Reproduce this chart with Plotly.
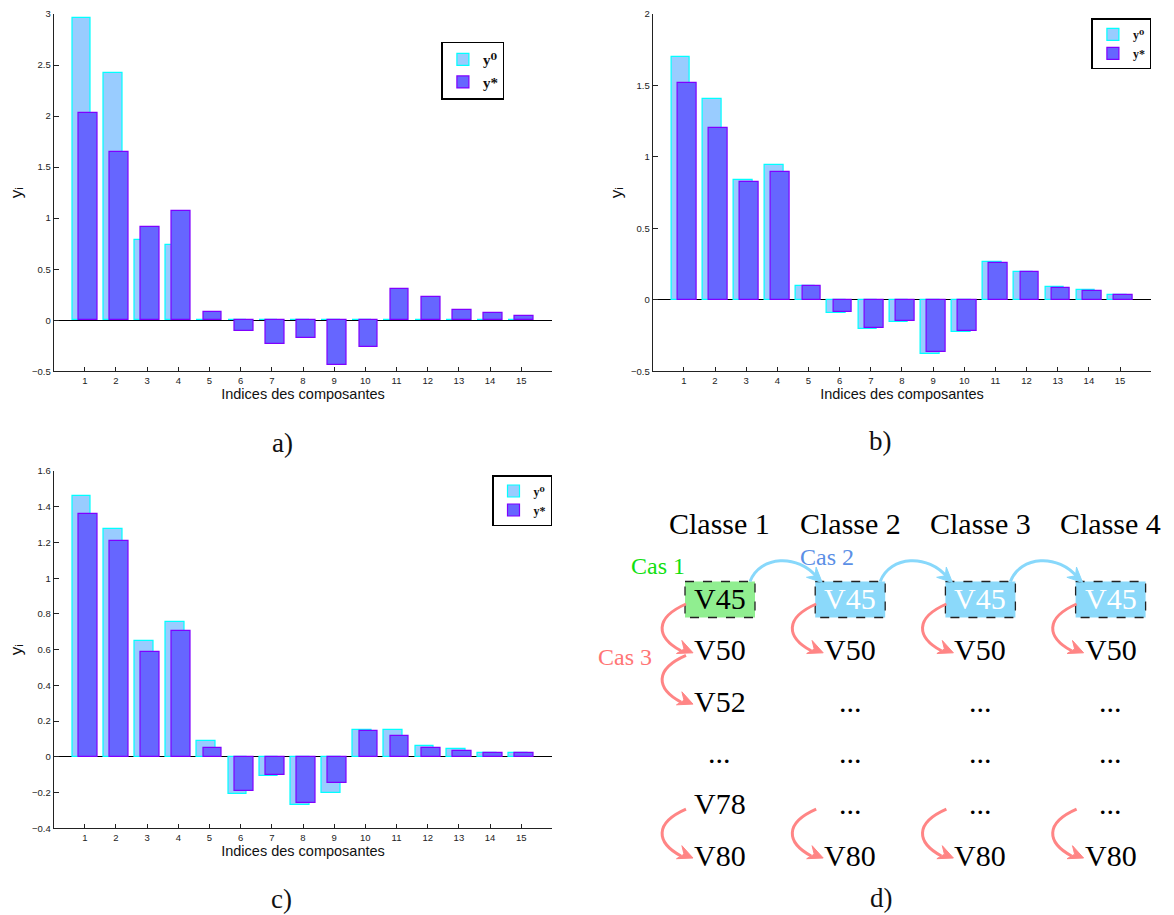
import math
import plotly.graph_objects as go

# ---------------- data ----------------
idx = list(range(1, 16))

a_y0 = [2.96, 2.42, 0.787, 0.735, 0.004, 0.004, 0.004, 0.004, 0.004, 0.004, 0.004, 0.004, 0.004, 0.004, 0.004]
a_ystar = [2.027, 1.645, 0.91, 1.068, 0.082, -0.104, -0.235, -0.176, -0.434, -0.258, 0.304, 0.229, 0.098, 0.075, 0.042]

b_y0 = [1.698, 1.404, 0.837, 0.942, 0.098, -0.089, -0.205, -0.156, -0.382, -0.222, 0.268, 0.198, 0.089, 0.068, 0.037]
b_ystar = [1.516, 1.203, 0.826, 0.893, 0.098, -0.086, -0.198, -0.149, -0.366, -0.215, 0.257, 0.194, 0.086, 0.063, 0.035]

c_y0 = [1.459, 1.278, 0.647, 0.754, 0.086, -0.209, -0.108, -0.269, -0.200, 0.153, 0.153, 0.060, 0.043, 0.024, 0.024]
c_ystar = [1.358, 1.209, 0.588, 0.703, 0.052, -0.192, -0.104, -0.261, -0.149, 0.147, 0.119, 0.049, 0.035, 0.021, 0.019]

a_yticks = [-0.5, 0, 0.5, 1, 1.5, 2, 2.5, 3]
a_yticktext = ["\u22120.5", "0", "0.5", "1", "1.5", "2", "2.5", "3"]
b_yticks = [-0.5, 0, 0.5, 1, 1.5, 2]
b_yticktext = ["\u22120.5", "0", "0.5", "1", "1.5", "2"]
c_yticks = [-0.4, -0.2, 0, 0.2, 0.4, 0.6, 0.8, 1, 1.2, 1.4, 1.6]
c_yticktext = ["\u22120.4", "\u22120.2", "0", "0.2", "0.4", "0.6", "0.8", "1", "1.2", "1.4", "1.6"]

x_title = "Indices des composantes"
y_title = "y\u1d62"
name_y0 = "y\u2070"
name_ystar = "y*"

# diagram (panel d)
classes = ["Classe 1", "Classe 2", "Classe 3", "Classe 4"]
columns = [
    ["V45", "V50", "V52", "...", "V78", "V80"],
    ["V45", "V50", "...", "...", "...", "V80"],
    ["V45", "V50", "...", "...", "...", "V80"],
    ["V45", "V50", "...", "...", "...", "V80"],
]
red_links = [
    [(0, 1), (1, 2), (4, 5)],
    [(0, 1), (4, 5)],
    [(0, 1), (4, 5)],
    [(0, 1), (4, 5)],
]
cas_labels = ["Cas 1", "Cas 2", "Cas 3"]
panel_labels = ["a)", "b)", "c)", "d)"]

# ---------------- style ----------------
W, H = 1174, 915
C_Y0_FILL, C_Y0_LINE = "#99ccff", "#00ffff"
C_YS_FILL, C_YS_LINE = "#6666ff", "#8000ff"
SANS = "Liberation Sans, DejaVu Sans"
SERIF = "Liberation Serif, DejaVu Serif"

fig = go.Figure()

panels = [
    ("x", "y", a_y0, a_ystar, "legend"),
    ("x2", "y2", b_y0, b_ystar, "legend2"),
    ("x3", "y3", c_y0, c_ystar, "legend3"),
]
for xa, ya, v0, vs, lg in panels:
    fig.add_trace(go.Bar(x=idx, y=v0, name=name_y0, xaxis=xa, yaxis=ya,
                         width=0.6, offset=-0.4, legend=lg,
                         marker=dict(color=C_Y0_FILL, line=dict(color=C_Y0_LINE, width=1.2))))
    fig.add_trace(go.Bar(x=idx, y=vs, name=name_ystar, xaxis=xa, yaxis=ya,
                         width=0.6, offset=-0.2, legend=lg,
                         marker=dict(color=C_YS_FILL, line=dict(color=C_YS_LINE, width=1.2))))


def px_x(p):
    return p / W


def px_y(p):
    return 1 - p / H


def xax(domain, anchor):
    return dict(domain=domain, anchor=anchor, range=[0, 16], tickvals=idx, ticktext=[str(i) for i in idx],
                ticks="inside", ticklen=4, tickcolor="#222", showline=True, linecolor="#222",
                linewidth=1, showgrid=False, zeroline=False, mirror=False,
                tickfont=dict(family=SANS, size=9.5, color="#222"),
                title=dict(text=x_title, font=dict(family=SANS, size=14.5, color="#111"), standoff=2))


def yax(domain, anchor, rng, tv, tt):
    return dict(domain=domain, anchor=anchor, range=rng, tickvals=tv, ticktext=tt,
                ticks="inside", ticklen=5, tickcolor="#222", showline=True, linecolor="#222",
                linewidth=1, showgrid=False, zeroline=True, zerolinecolor="#000", zerolinewidth=1,
                tickfont=dict(family=SANS, size=9.5, color="#222"),
                title=dict(text=y_title, font=dict(family=SANS, size=17, color="#111"), standoff=4))


xa_dom = [px_x(53.6), px_x(552.4)]
xb_dom = [px_x(652.7), px_x(1151.2)]
ya_dom = [px_y(371.3), px_y(14)]
yc_dom = [px_y(828.3), px_y(471)]

legend_common = dict(bgcolor="white", bordercolor="black", borderwidth=1.5,
                     xanchor="left", yanchor="top", itemwidth=30, tracegroupgap=0)

fig.update_layout(
    width=W, height=H, margin=dict(l=0, r=0, t=0, b=0, autoexpand=False),
    paper_bgcolor="white", plot_bgcolor="white",
    barmode="overlay", bargap=0,
    xaxis=xax(xa_dom, "y"), yaxis=yax(ya_dom, "x", [-0.5, 3], a_yticks, a_yticktext),
    xaxis2=xax(xb_dom, "y2"), yaxis2=yax(ya_dom, "x2", [-0.5, 2], b_yticks, b_yticktext),
    xaxis3=xax(xa_dom, "y3"), yaxis3=yax(yc_dom, "x3", [-0.4, 1.6], c_yticks, c_yticktext),
    xaxis4=dict(domain=[px_x(590), 1], anchor="y4", range=[590, W], visible=False, fixedrange=True),
    yaxis4=dict(domain=[0, px_y(490)], anchor="x4", range=[H, 490], visible=False, fixedrange=True),
    legend=dict(x=px_x(441.4), y=px_y(41.7),
                font=dict(family=SERIF, size=15, color="#111", weight="bold"), **legend_common),
    legend2=dict(x=px_x(1091.4), y=px_y(18.3),
                 font=dict(family=SERIF, size=12, color="#111", weight="bold"), **legend_common),
    legend3=dict(x=px_x(492), y=px_y(475),
                 font=dict(family=SERIF, size=12, color="#111", weight="bold"), **legend_common),
    showlegend=True,
)

# ---------------- panel labels ----------------
label_pos = [(282.5, 443), (880, 441), (281, 899), (881, 898)]
for txt, (lx, ly) in zip(panel_labels, label_pos):
    fig.add_annotation(text=txt, x=px_x(lx), y=px_y(ly), xref="paper", yref="paper",
                       showarrow=False, xanchor="center", yanchor="middle",
                       font=dict(family=SERIF, size=27, color="#111"))

# ---------------- diagram d ----------------
COL_X0, COL_DX = 720.0, 130.2
ROW_Y0, ROW_DY = 600.0, 51.3
HEAD_Y = 525.0
TXT_DY = -1.5  # visual centering of serif caps
BLUE_ARROW = "#88d8fb"
RED_ARROW = "#ff8585"


def cx(i):
    return COL_X0 + COL_DX * i


def ry(j):
    return ROW_Y0 + ROW_DY * j


def text4(t, x, y, size, color):
    fig.add_annotation(text=t, x=x, y=y + TXT_DY, xref="x4", yref="y4", showarrow=False,
                       xanchor="center", yanchor="middle",
                       font=dict(family=SERIF, size=size, color=color))


def arrowhead(tip, ctrl, color, L=15, Wd=7):
    dx, dy = tip[0] - ctrl[0], tip[1] - ctrl[1]
    n = math.hypot(dx, dy)
    dx, dy = dx / n, dy / n
    px, py = -dy, dx
    bx, by = tip[0] - L * dx, tip[1] - L * dy
    nx, ny = tip[0] - 0.65 * L * dx, tip[1] - 0.65 * L * dy
    path = (f"M {tip[0]:.1f},{tip[1]:.1f} L {bx + Wd * px:.1f},{by + Wd * py:.1f} "
            f"L {nx:.1f},{ny:.1f} L {bx - Wd * px:.1f},{by - Wd * py:.1f} Z")
    fig.add_shape(type="path", path=path, xref="x4", yref="y4",
                  fillcolor=color, line=dict(color=color, width=1))


def curve(p0, c1, c2, p3, color):
    path = (f"M {p0[0]:.1f},{p0[1]:.1f} C {c1[0]:.1f},{c1[1]:.1f} "
            f"{c2[0]:.1f},{c2[1]:.1f} {p3[0]:.1f},{p3[1]:.1f}")
    fig.add_shape(type="path", path=path, xref="x4", yref="y4",
                  line=dict(color=color, width=3))


for i, cname in enumerate(classes):
    text4(cname, cx(i), HEAD_Y, 30, "#000")

for i, col in enumerate(columns):
    fill = "#90ee90" if i == 0 else "#8bd9fa"
    fig.add_shape(type="rect", x0=cx(i) - 35, x1=cx(i) + 35, y0=ry(0) - 18.5, y1=ry(0) + 17.5,
                  xref="x4", yref="y4", fillcolor=fill,
                  line=dict(color="#222", width=1.3, dash="dash"), layer="below")
    for j, lab in enumerate(col):
        color = "#000" if (j > 0 or i == 0) else "#ffffff"
        text4(lab, cx(i), ry(j), 30, color)
    for (j0, j1) in red_links[i]:
        p0 = (cx(i) - 34, ry(j0) + 4)
        c1 = (cx(i) - 66, ry(j0) + 18)
        c2 = (cx(i) - 64, ry(j1) - 14)
        curve(p0, c1, c2, (cx(i) - 39, ry(j1) - 0.5), RED_ARROW)
        arrowhead((cx(i) - 27, ry(j1) + 1.5), c2, RED_ARROW)

for i in range(len(classes) - 1):
    y0 = ry(0) - 18.5
    p0 = (cx(i) + 30, y0)
    c1 = (cx(i) + 40, y0 - 26)
    c2 = (cx(i + 1) - 52, y0 - 28)
    tip = (cx(i + 1) - 28, y0 + 1)
    curve(p0, c1, c2, (tip[0] - 5, tip[1] - 5), BLUE_ARROW)
    arrowhead(tip, (tip[0] - 18, tip[1] - 17), BLUE_ARROW)

text4(cas_labels[0], 658.5, 567, 24, "#11e011")
text4(cas_labels[1], 827.5, 558.5, 24, "#5b8fe6")
text4(cas_labels[2], 625, 658.5, 24, "#ff7575")

fig.write_html("out.html", config={"displayModeBar": False},
               post_script="document.body.style.margin='0';document.body.style.overflow='hidden';")
